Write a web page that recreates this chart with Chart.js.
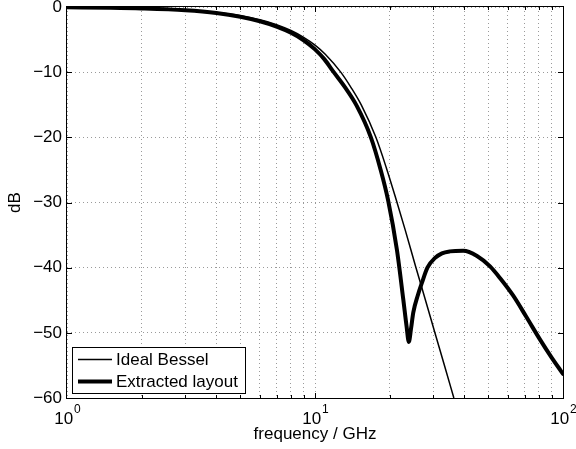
<!DOCTYPE html>
<html lang="en">
<head>
    <meta charset="UTF-8">
    <title>Bessel filter response</title>
    <script src="https://cdn.jsdelivr.net/npm/chart.js"></script>
    <style>
        html, body { margin: 0; padding: 0; background: #fff; }
        canvas { display: block; }
    </style>
</head>
<body>
    <canvas id="grafico" width="576" height="449"></canvas>

    <script>
        // frequency in GHz, response in dB
        const freqBessel = [1, 1.5, 2, 3, 4, 5, 6, 7, 8, 9, 10, 11, 12.7, 14, 15.4, 17.6, 19.4, 21.3, 23.1, 25.4, 27.8, 30.4, 33.2, 36.3];
        const dbBessel = [-0.05, -0.12, -0.21, -0.47, -0.85, -1.33, -1.95, -2.7, -3.6, -4.65, -5.85, -7.25, -10, -12.4, -15.1, -20, -24.7, -29.7, -34.2, -39.7, -44.8, -49.9, -54.9, -60];

        const freqLayout = [1, 1.5, 2, 3, 4, 5, 6, 7, 8, 9, 10, 10.9, 11.9, 13.2, 14.7, 16.8, 18.4, 19.7, 21.4, 22.7, 23.4, 23.9, 24.4, 24.9, 26.0, 27.0, 28.4, 30.5, 32.5, 35, 39.6, 45, 50.8, 56, 63, 71, 80.7, 90, 100];
        const dbLayout = [-0.05, -0.12, -0.22, -0.5, -0.92, -1.5, -2.2, -3.0, -3.95, -5.1, -6.5, -8.0, -10, -12.3, -15.1, -20, -25, -29.6, -37.3, -44.9, -49.0, -51.4, -49.3, -46.9, -44.2, -42.3, -40.0, -38.5, -37.8, -37.5, -37.4, -38.2, -39.8, -41.7, -44.3, -47.5, -51.0, -53.8, -56.3];

        const xTickValues = [1, 2, 3, 4, 5, 6, 7, 8, 9, 10, 20, 30, 40, 50, 60, 70, 80, 90, 100];
        const xLabelValues = [1, 10, 100];
        const yTickValues = [-60, -50, -40, -30, -20, -10, 0];

        const fonte = "'Liberation Sans', Arial, Helvetica, sans-serif";
        const corGrade = '#9a9a9a';

        function pontos(xs, ys) {
            return xs.map((x, i) => ({ x: x, y: ys[i] }));
        }

        // frame, inward ticks, legend box and 10^n labels (matlab look)
        const moldura = {
            id: 'moldura',
            afterDraw(chart) {
                const ctx = chart.ctx;
                const a = chart.chartArea;
                const sx = chart.scales.x;
                const sy = chart.scales.y;
                const l = Math.round(a.left), r = Math.round(a.right);
                const t = Math.round(a.top), b = Math.round(a.bottom);

                ctx.save();
                ctx.strokeStyle = '#000';
                ctx.lineWidth = 1;
                ctx.strokeRect(l - 0.5, t - 0.5, r - l + 1, b - t + 1);

                ctx.beginPath();
                xTickValues.forEach(v => {
                    if (v === 1 || v === 100) return;
                    const px = Math.round(sx.getPixelForValue(v)) + 0.5;
                    const len = xLabelValues.includes(v) ? 5 : 3;
                    ctx.moveTo(px, b); ctx.lineTo(px, b - len);
                    ctx.moveTo(px, t); ctx.lineTo(px, t + len);
                });
                yTickValues.forEach(v => {
                    if (v === 0 || v === -60) return;
                    const py = Math.round(sy.getPixelForValue(v)) + 0.5;
                    ctx.moveTo(l, py); ctx.lineTo(l + 5, py);
                    ctx.moveTo(r, py); ctx.lineTo(r - 5, py);
                });
                ctx.stroke();

                // x labels with exponent
                ctx.fillStyle = '#000';
                ctx.textBaseline = 'alphabetic';
                ctx.textAlign = 'left';
                xLabelValues.forEach(v => {
                    const px = sx.getPixelForValue(v);
                    const exp = String(Math.round(Math.log10(v)));
                    ctx.font = '17px ' + fonte;
                    const w1 = ctx.measureText('10').width;
                    ctx.font = '12px ' + fonte;
                    const w2 = ctx.measureText(exp).width;
                    const x0 = px - (w1 + w2) / 2;
                    ctx.font = '17px ' + fonte;
                    ctx.fillText('10', x0, b + 25.5);
                    ctx.font = '12px ' + fonte;
                    ctx.fillText(exp, x0 + w1 + 1, b + 15);
                });

                // legend
                const bx = l + 5, bw = 173, bh = 46;
                const by = b - 5 - bh;
                ctx.fillStyle = '#fff';
                ctx.fillRect(bx, by, bw, bh);
                ctx.strokeStyle = '#000';
                ctx.lineWidth = 1;
                ctx.strokeRect(bx + 0.5, by + 0.5, bw, bh);
                ctx.font = '17px ' + fonte;
                ctx.textBaseline = 'middle';
                chart.data.datasets.forEach((ds, i) => {
                    const cy = by + 12.5 + i * 22;
                    ctx.beginPath();
                    ctx.lineWidth = ds.borderWidth;
                    ctx.strokeStyle = ds.borderColor;
                    ctx.moveTo(bx + 6, cy);
                    ctx.lineTo(bx + 40, cy);
                    ctx.stroke();
                    ctx.fillStyle = '#000';
                    ctx.fillText(ds.label, bx + 44, cy + 1);
                });
                ctx.restore();
            }
        };

        new Chart(document.getElementById('grafico'), {
            type: 'line',
            data: {
                datasets: [{
                    label: 'Ideal Bessel',
                    data: pontos(freqBessel, dbBessel),
                    borderColor: '#000',
                    borderWidth: 1.5,
                    cubicInterpolationMode: 'monotone',
                    pointRadius: 0,
                    fill: false
                }, {
                    label: 'Extracted layout',
                    data: pontos(freqLayout, dbLayout),
                    borderColor: '#000',
                    borderWidth: 4,
                    borderJoinStyle: 'round',
                    borderCapStyle: 'round',
                    cubicInterpolationMode: 'monotone',
                    pointRadius: 0,
                    fill: false
                }]
            },
            options: {
                responsive: false,
                animation: false,
                parsing: false,
                layout: { padding: { top: 7, right: 13, left: 0, bottom: 0 } },
                plugins: {
                    legend: { display: false },
                    tooltip: { enabled: false }
                },
                scales: {
                    x: {
                        type: 'logarithmic',
                        min: 1,
                        max: 100,
                        afterBuildTicks: s => { s.ticks = xTickValues.map(v => ({ value: v })); },
                        afterFit: s => { s.height = 51; s.paddingLeft = 0; s.paddingRight = 0; },
                        ticks: { autoSkip: false, callback: () => '', maxRotation: 0 },
                        grid: { color: corGrade, drawTicks: false, lineWidth: 1 },
                        border: { display: false, dash: [1, 3] },
                        title: {
                            display: true,
                            text: 'frequency / GHz',
                            color: '#000',
                            font: { family: fonte, size: 17 },
                            padding: { top: 0, bottom: 4 }
                        }
                    },
                    y: {
                        min: -60,
                        max: 0,
                        afterBuildTicks: s => { s.ticks = yTickValues.map(v => ({ value: v })); },
                        afterFit: s => { s.width = 67; s.paddingTop = 0; s.paddingBottom = 0; },
                        ticks: {
                            autoSkip: false,
                            color: '#000',
                            padding: 5,
                            font: { family: fonte, size: 17 },
                            callback: v => v < 0 ? '\u2212' + (-v) : String(v)
                        },
                        grid: { color: corGrade, drawTicks: false, lineWidth: 1 },
                        border: { display: false, dash: [1, 3] },
                        title: {
                            display: true,
                            text: 'dB',
                            color: '#000',
                            font: { family: fonte, size: 17 },
                            padding: { top: 5, bottom: 0 }
                        }
                    }
                }
            },
            plugins: [moldura]
        });
    </script>
</body>
</html>
